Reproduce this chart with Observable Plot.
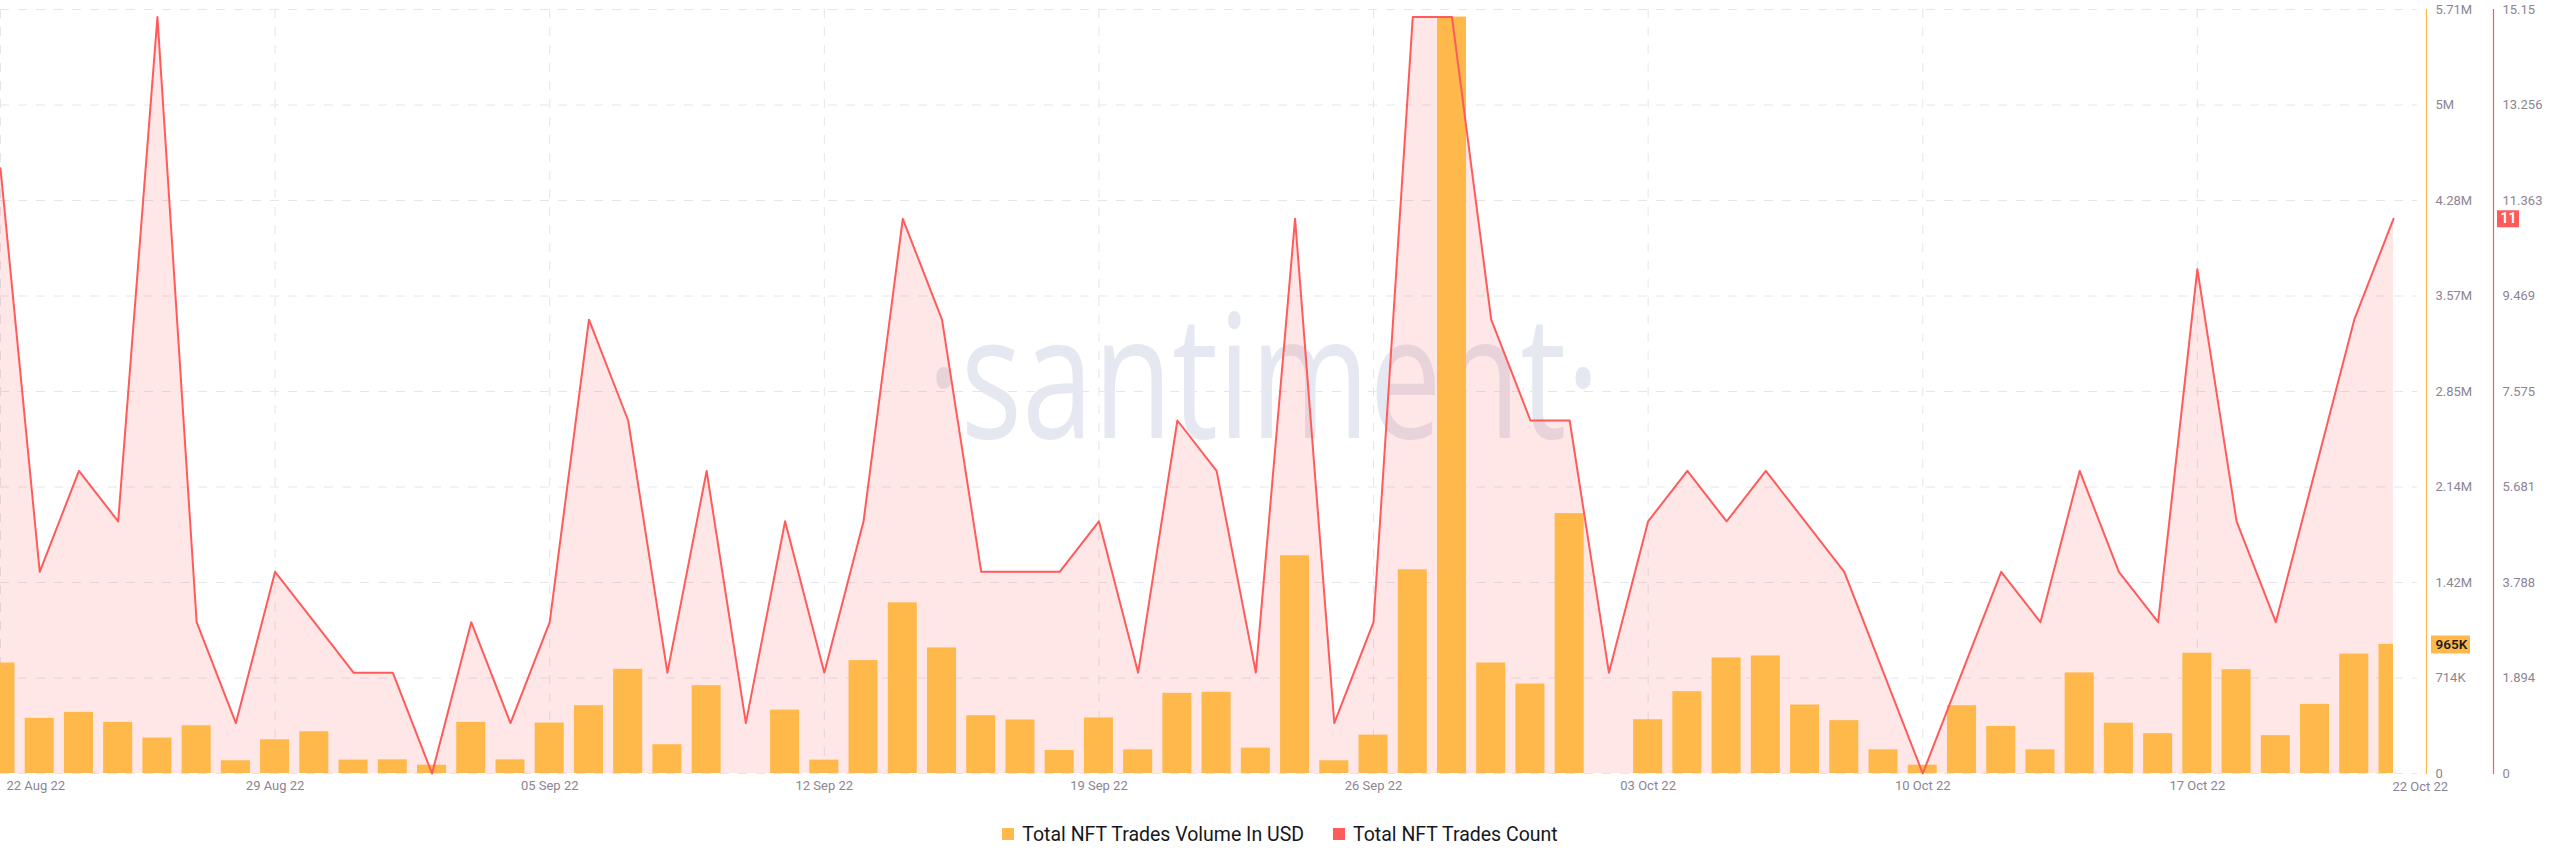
<!DOCTYPE html>
<html><head><meta charset="utf-8">
<script src="https://cdn.jsdelivr.net/npm/d3@7"></script>
<script src="https://cdn.jsdelivr.net/npm/@observablehq/plot@0.6"></script>
<style>
html,body{margin:0;background:#fff;}
body{width:2560px;height:867px;overflow:hidden;font-family:Roboto,"Noto Sans",sans-serif;}
#legend{display:flex;justify-content:center;align-items:center;gap:29px;margin-top:11px;font-size:19.5px;color:#16181d;height:26px;}
.item{display:flex;align-items:center;gap:8px;}
.sw{width:12px;height:12px;display:inline-block;}
</style></head><body>
<div id="chart"></div>
<div id="legend"></div>
<script>
// ---- data ----
const dates = [
 "2022-08-22","2022-08-23","2022-08-24","2022-08-25","2022-08-26","2022-08-27","2022-08-28",
 "2022-08-29","2022-08-30","2022-08-31","2022-09-01","2022-09-02","2022-09-03","2022-09-04",
 "2022-09-05","2022-09-06","2022-09-07","2022-09-08","2022-09-09","2022-09-10","2022-09-11",
 "2022-09-12","2022-09-13","2022-09-14","2022-09-15","2022-09-16","2022-09-17","2022-09-18",
 "2022-09-19","2022-09-20","2022-09-21","2022-09-22","2022-09-23","2022-09-24","2022-09-25",
 "2022-09-26","2022-09-27","2022-09-28","2022-09-29","2022-09-30","2022-10-01","2022-10-02",
 "2022-10-03","2022-10-04","2022-10-05","2022-10-06","2022-10-07","2022-10-08","2022-10-09",
 "2022-10-10","2022-10-11","2022-10-12","2022-10-13","2022-10-14","2022-10-15","2022-10-16",
 "2022-10-17","2022-10-18","2022-10-19","2022-10-20","2022-10-21","2022-10-22"];
// Total NFT Trades Volume In USD
const volumes = [
 826000,412000,457000,382000,265000,357000,95000,
 252000,312000,100000,102000,62000,382000,102000,
 377000,507000,779000,215000,657000,0,474000,
 100000,844000,1276000,939000,432000,400000,172000,
 415000,177000,599000,607000,190000,1628000,95000,
 287000,1523000,5655000,826000,669000,1943000,0,
 402000,612000,864000,879000,512000,395000,177000,
 62000,507000,352000,177000,752000,376000,298000,
 899000,776000,283000,517000,893000,965000];
// Total NFT Trades Count
const counts = [
 12,4,6,5,15,3,1,
 4,3,2,2,0,3,1,
 3,9,7,2,6,1,5,
 2,5,11,9,4,4,4,
 5,2,7,6,2,11,1,
 3,15,15,9,7,7,2,
 5,6,5,6,5,4,2,
 0,2,4,3,6,4,3,
 10,5,3,6,9,11];
const volTickLabels = ["0","714K","1.42M","2.14M","2.85M","3.57M","4.28M","5M","5.71M"];
const countTickLabels = ["0","1.894","3.788","5.681","7.575","9.469","11.363","13.256","15.15"];
const weekTicks = ["2022-08-22","2022-08-29","2022-09-05","2022-09-12","2022-09-19","2022-09-26","2022-10-03","2022-10-10","2022-10-17"];
const seriesNames = ["Total NFT Trades Volume In USD","Total NFT Trades Count"];
const volAxisMax = 5711600;
const countAxisMax = 15.15;

// ---- chart ----
const RED = "#ff5b5b", ORANGE = "#ffb94b", GRID = "#e3e6ef", TXT = "#8d8493";
const rows = dates.map((d, i) => ({date: new Date(d), vol: volumes[i], cnt: counts[i]}));
const first = rows[0].date, last = rows[rows.length - 1].date;
const halfBar = 0.37 * 864e5;
const tickVals = volTickLabels.map((_, i) => i * volAxisMax / (volTickLabels.length - 1));
const toY = c => c * volAxisMax / countAxisMax;
const fmtDate = d3.utcFormat("%d %b %y");
const lastRow = rows[rows.length - 1];
const idx = v => Math.round(v / volAxisMax * (volTickLabels.length - 1));

const plot = Plot.plot({
  width: 2560, height: 810,
  marginLeft: 0, marginRight: 134, marginTop: 9, marginBottom: 37,
  style: {fontFamily: "Roboto, sans-serif", fontSize: "13px", background: "#fff", overflow: "visible"},
  x: {type: "utc", domain: [first, last], range: [0, 2393]},
  y: {domain: [0, volAxisMax]},
  marks: [
    Plot.gridY(tickVals, {stroke: GRID, strokeOpacity: 1, strokeDasharray: "9,9", insetRight: 9}),
    Plot.gridX(weekTicks.map(d => new Date(d)), {stroke: GRID, strokeOpacity: 1, strokeDasharray: "9,9"}),
    Plot.text(["·santiment·"], {frameAnchor: "middle", dx: 50, dy: -9, fontSize: 172, fill: "#e5e8f1", fontFamily: "Open Sans"}),
    Plot.areaY(rows, {x: "date", y: d => toY(d.cnt), fill: RED, fillOpacity: 0.15}),
    Plot.rectY(rows, {
      x1: d => new Date(Math.max(+first, +d.date - halfBar)),
      x2: d => new Date(Math.min(+last, +d.date + halfBar)),
      y: "vol", fill: ORANGE}),
    Plot.lineY(rows, {x: "date", y: d => toY(d.cnt), stroke: RED, strokeWidth: 2}),
    Plot.frame({anchor: "right", stroke: ORANGE, strokeWidth: 1.2}),
    Plot.frame({anchor: "right", stroke: RED, strokeWidth: 1.2, dx: 67}),
    Plot.axisY({anchor: "right", ticks: tickVals, tickFormat: v => volTickLabels[idx(v)], tickSize: 0, tickPadding: 9, fill: TXT, label: null}),
    Plot.axisY({anchor: "right", ticks: tickVals, tickFormat: v => countTickLabels[idx(v)], tickSize: 0, tickPadding: 76, fill: TXT, label: null}),
    Plot.axisX(weekTicks.slice(1).map(d => new Date(d)), {tickSize: 0, tickPadding: 7, tickFormat: fmtDate, fill: TXT, label: null}),
    Plot.text([first], {x: d => d, frameAnchor: "bottom", textAnchor: "start", lineAnchor: "top", dx: 6, dy: 7, text: fmtDate, fill: TXT}),
    Plot.text([last], {x: d => d, frameAnchor: "bottom", textAnchor: "start", lineAnchor: "top", dx: -1, dy: 8, text: fmtDate, fill: TXT}),
    // last-value badges
    Plot.ruleY([lastRow.vol], {y: d => d, stroke: ORANGE, strokeWidth: 18, insetLeft: 2431, insetRight: -44}),
    Plot.text([lastRow.vol], {y: d => d, frameAnchor: "right", textAnchor: "start", dx: 9, text: d => d3.format(".3~s")(d).toUpperCase(), fill: "#1b1d22", fontWeight: 600, fontSize: 13.5}),
    Plot.ruleY([toY(lastRow.cnt)], {y: d => d, stroke: RED, strokeWidth: 17, insetLeft: 2497, insetRight: -93}),
    Plot.text([lastRow.cnt], {y: d => toY(d), frameAnchor: "right", textAnchor: "middle", dx: 82, text: d => String(d), fill: "#fff", fontWeight: 600, fontSize: 14})
  ]
});
document.getElementById("chart").appendChild(plot);

// condensed watermark
d3.select(plot).selectAll("text").filter(function(){ return this.textContent === "·santiment·"; })
  .attr("textLength", 673).attr("lengthAdjust", "spacingAndGlyphs");

// legend
const legend = d3.select("#legend");
[[seriesNames[0], ORANGE], [seriesNames[1], RED]].forEach(([name, c]) => {
  const it = legend.append("div").attr("class", "item");
  it.append("span").attr("class", "sw").style("background", c);
  it.append("span").text(name);
});
</script>
</body></html>
